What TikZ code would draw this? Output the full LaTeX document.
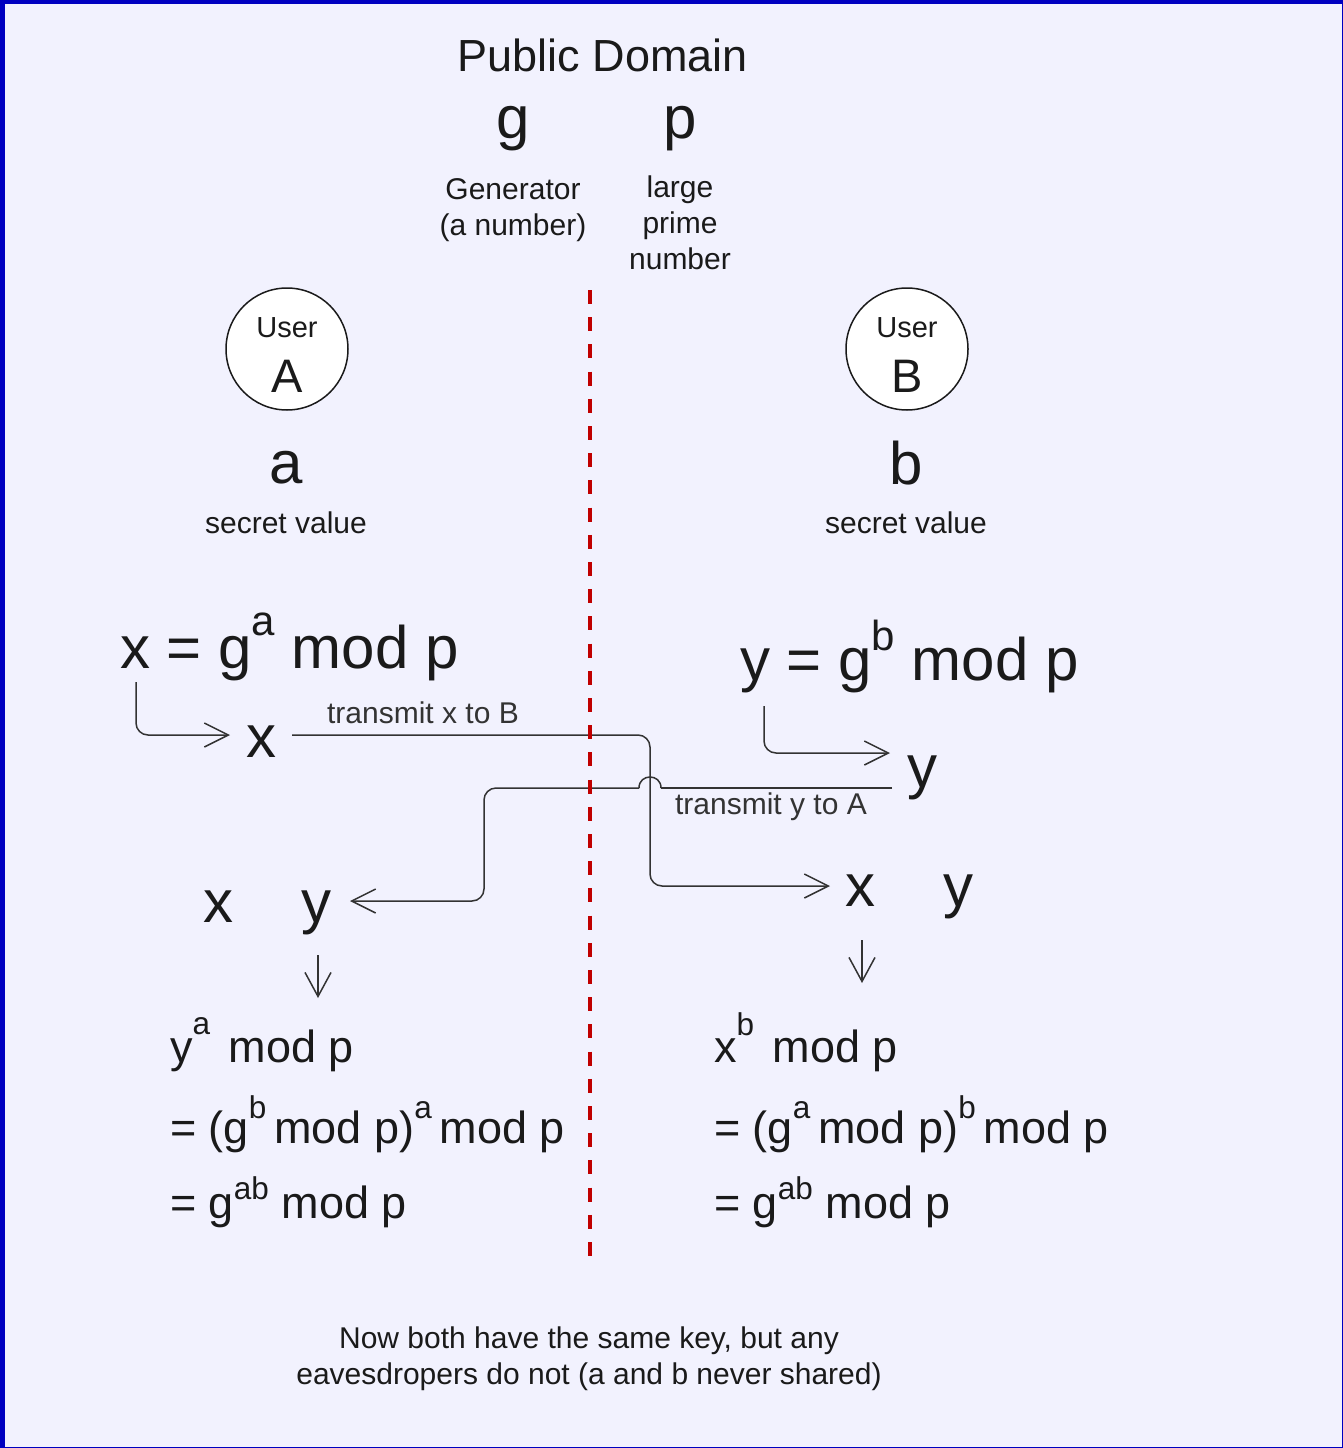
\documentclass[tikz,border=0pt]{standalone}
\usepackage{graphicx}
\usepackage{fontspec}
\setmainfont{Liberation Sans}
\usetikzlibrary{arrows.meta}
\definecolor{bg}{HTML}{F2F2FE}
\definecolor{frame}{HTML}{0000C0}
\definecolor{ink}{HTML}{1A1A1A}
\definecolor{lineclr}{HTML}{333333}
\definecolor{dred}{HTML}{C00000}
\newcommand\fz[1]{\fontsize{#1}{#1}\selectfont}
\newcommand\spr[2][0.5em]{\raisebox{#1}{\scalebox{0.7}{#2}}}
\begin{document}
\begin{tikzpicture}[x=1pt,y=-1pt,
  txt/.style={inner sep=0pt, outer sep=0pt, text=ink, anchor=base},
  lft/.style={txt, anchor=base west},
  conn/.style={draw=lineclr, line width=1.5pt, rounded corners=12pt},
  plain/.style={draw=lineclr, line width=1.5pt},
  arr/.style={conn, -{Straight Barb[length=24pt,width=24pt,line width=1.5pt]}},
  darr/.style={plain, -{Straight Barb[length=24pt,width=26pt,line width=1.5pt]}},
  user/.style={circle, draw=ink, line width=1.5pt, fill=white, minimum size=122pt, inner sep=0pt},
  divider/.style={draw=dred, line width=4pt, dash pattern=on 14pt off 13.2pt},
]
\useasboundingbox (0,0) rectangle (1343,1448);
\fill[frame] (0,0) rectangle (1343,1448);
\fill[bg] (4.5,4) rectangle (1342,1447);

% public domain
\node[txt, font=\fz{45}] (pd) at (603,71) {Public Domain};
\node[txt, font=\fz{60}] (g) at (513,138) {g};
\node[txt, font=\fz{60}] (p) at (680,138) {p};
\node[txt, font=\fz{30}] (gen1) at (513,199) {Generator};
\node[txt, font=\fz{30}] (gen2) at (513,235) {(a number)};
\node[txt, font=\fz{30}] (lp1) at (680,197) {large};
\node[txt, font=\fz{30}] (lp2) at (680,233) {prime};
\node[txt, font=\fz{30}] (lp3) at (680,269) {number};

% users
\node[user] (ua) at (287,349) {};
\node[txt, font=\fz{29}] (uat) at (287,337) {User};
\node[txt, font=\fz{47}] (uan) at (287,392) {A};
\node[user] (ub) at (907,349) {};
\node[txt, font=\fz{29}] (ubt) at (907,337) {User};
\node[txt, font=\fz{47}] (ubn) at (907,392) {B};

\node[txt, font=\fz{60}] (sa) at (286,483) {a};
\node[txt, font=\fz{30}] (sva) at (286,533) {secret value};
\node[txt, font=\fz{60}] (sb) at (906,484) {b};
\node[txt, font=\fz{30}] (svb) at (906,533) {secret value};

% equations
\node[lft, font=\fz{60}] (xeq) at (120,668) {x = g\spr[0.55em]{a} mod p};
\node[lft, font=\fz{60}] (yeq) at (740,680) {y = g\spr[0.5em]{b} mod p};
\node[txt, font=\fz{60}] (xa) at (261,757) {x};
\node[txt, font=\fz{60}] (yb) at (922,787) {y};
\node[txt, font=\fz{30}, text=lineclr] (lx) at (423,723) {transmit x to B};
\node[txt, font=\fz{30}, text=lineclr] (ly) at (771,814) {transmit y to A};

\node[txt, font=\fz{60}] (lxx) at (218,922) {x};
\node[txt, font=\fz{60}] (lyy) at (316,922) {y};
\node[txt, font=\fz{60}] (rxx) at (860,906) {x};
\node[txt, font=\fz{60}] (ryy) at (958,906) {y};

% results
\node[lft, font=\fz{45}] (la1) at (170,1062) {y\spr[0.62em]{a}\hspace{6pt} mod p};
\node[lft, font=\fz{45}] (la2) at (170,1143) {= (g\spr[0.55em]{b}\hspace{8pt}mod p)\spr[0.55em]{a}\hspace{8pt}mod p};
\node[lft, font=\fz{45}] (la3) at (170,1218) {= g\spr[0.42em]{ab}\hspace{13pt}mod p};
\node[lft, font=\fz{45}] (rb1) at (714,1062) {x\spr[0.6em]{b}\hspace{6pt} mod p};
\node[lft, font=\fz{45}] (rb2) at (714,1143) {= (g\spr[0.55em]{a}\hspace{8pt}mod p)\spr[0.55em]{b}\hspace{8pt}mod p};
\node[lft, font=\fz{45}] (rb3) at (714,1218) {= g\spr[0.42em]{ab}\hspace{13pt}mod p};

\node[txt, font=\fz{30}] (n1) at (589,1348) {Now both have the same key, but any};
\node[txt, font=\fz{30}] (n2) at (589,1384) {eavesdropers do not (a and b never shared)};

% connector points
\coordinate (a1) at (136,682);
\coordinate (a2) at (136,735);
\coordinate (a3) at (230,735);
\coordinate (t1) at (292,735);
\coordinate (t2) at (650,735);
\coordinate (t3) at (650,886);
\coordinate (t4) at (830,886);
\coordinate (b1) at (764,706);
\coordinate (b2) at (764,753);
\coordinate (b3) at (890,753);
\coordinate (u1) at (892,788);
\coordinate (u2) at (661,788);
\coordinate (u3) at (639,788);
\coordinate (u4) at (484,788);
\coordinate (u5) at (484,901);
\coordinate (u6) at (350,901);
\coordinate (d1) at (318,955);
\coordinate (d2) at (318,998);
\coordinate (e1) at (862,940);
\coordinate (e2) at (862,983);

\draw[arr] (a1) -- (a2) -- (a3);
\draw[arr] (t1) -- (t2) -- (t3) -- (t4);
\draw[arr] (b1) -- (b2) -- (b3);
\draw[plain] (u1) -- (u2);
\draw[plain] (u2) .. controls (661,773.3) and (639,773.3) .. (u3);
\draw[arr] (u3) -- (u4) -- (u5) -- (u6);
\draw[darr] (d1) -- (d2);
\draw[darr] (e1) -- (e2);

% divider
\coordinate (v1) at (590,290);
\coordinate (v2) at (590,1257);
\draw[divider] (v1) -- (v2);
\end{tikzpicture}
\end{document}
